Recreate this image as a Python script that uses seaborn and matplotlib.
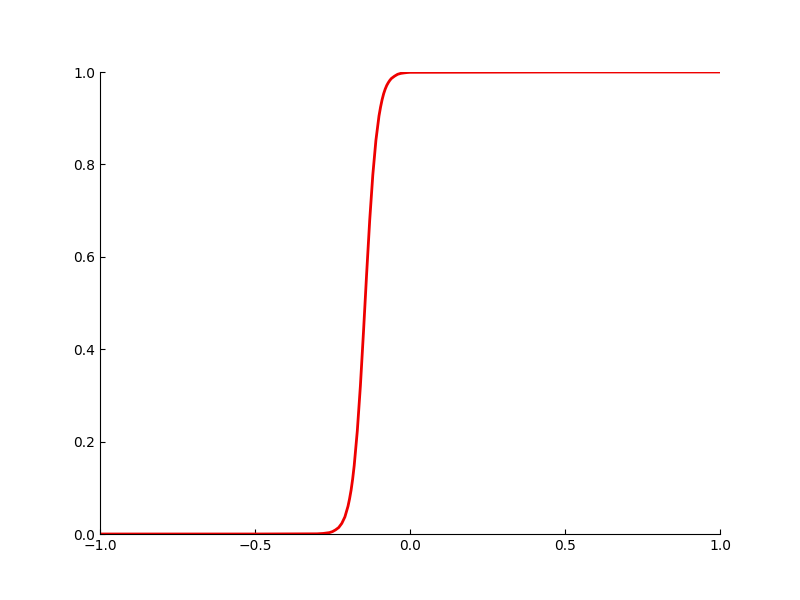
import numpy as np
import pandas as pd
import matplotlib
matplotlib.use("Agg")
import matplotlib.pyplot as plt
import seaborn as sns

# values
x_vals = [-1.0, -0.5, -0.30, -0.28, -0.26, -0.25, -0.24, -0.23, -0.22, -0.21,
          -0.20, -0.195, -0.19, -0.185, -0.18, -0.17, -0.16, -0.15, -0.14, -0.13,
          -0.12, -0.11, -0.10, -0.095, -0.09, -0.085, -0.08, -0.075, -0.07, -0.065,
          -0.06, -0.05, -0.04, -0.03, -0.02, -0.01, 0.0, 0.5, 1.0]
y_vals = [0.0, 0.0, 0.0004, 0.0012, 0.003, 0.0052, 0.009, 0.014, 0.023, 0.037,
          0.060, 0.076, 0.095, 0.119, 0.148, 0.223, 0.321, 0.438, 0.562, 0.679,
          0.777, 0.852, 0.905, 0.924, 0.940, 0.953, 0.963, 0.971, 0.977, 0.982,
          0.986, 0.991, 0.995, 0.997, 0.998, 0.9988, 0.9993, 1.0, 1.0]

x_ticks = [-1.0, -0.5, 0.0, 0.5, 1.0]
y_ticks = [0.0, 0.2, 0.4, 0.6, 0.8, 1.0]

df = pd.DataFrame({"x": x_vals, "y": y_vals})

fig, ax = plt.subplots(figsize=(8, 6), dpi=100)
sns.lineplot(data=df, x="x", y="y", ax=ax, color="#ee0000", linewidth=2, sort=False)

ax.set_xlim(-1, 1)
ax.set_ylim(0, 1)
ax.set_xticks(x_ticks)
ax.set_yticks(y_ticks)
ax.set_xlabel("")
ax.set_ylabel("")
ax.tick_params(direction="in", top=False, right=False)
sns.despine(ax=ax)

plt.savefig("out.png", dpi=100)
plt.close()
